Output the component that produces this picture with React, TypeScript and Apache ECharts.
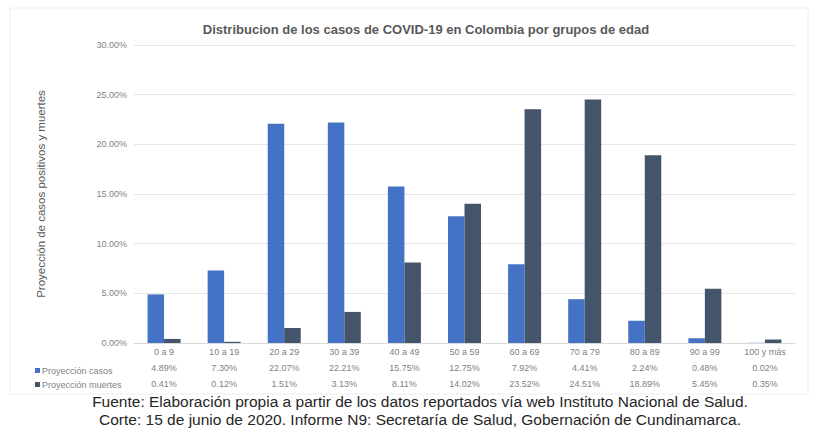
import React, { useEffect, useRef } from "react";
import * as echarts from "echarts";

const categories = ["0 a 9", "10 a 19", "20 a 29", "30 a 39", "40 a 49", "50 a 59", "60 a 69", "70 a 79", "80 a 89", "90 a 99", "100 y más"];
const casos = [4.89, 7.30, 22.07, 22.21, 15.75, 12.75, 7.92, 4.41, 2.24, 0.48, 0.02];
const muertes = [0.41, 0.12, 1.51, 3.13, 8.11, 14.02, 23.52, 24.51, 18.89, 5.45, 0.35];
const seriesNames = ["Proyección casos", "Proyección muertes"];
const title = "Distribucion de los casos de COVID-19 en Colombia por grupos de edad";
const yName = "Proyección de casos positivos y muertes";
const footer1 = "Fuente: Elaboración propia a partir de los datos reportados vía web Instituto Nacional de Salud.";
const footer2 = "Corte: 15 de junio de 2020. Informe N9: Secretaría de Salud, Gobernación de Cundinamarca.";

const FONT = "'Liberation Sans', Arial, sans-serif";

export default function App() {
  const ref = useRef<HTMLDivElement>(null);
  useEffect(() => {
    if (!ref.current) return;
    const chart = echarts.init(ref.current, undefined, { renderer: "svg" });
    chart.setOption({
      animation: false,
      backgroundColor: "#ffffff",
      textStyle: { fontFamily: FONT },
      title: {
        text: title,
        left: 421,
        textAlign: "center",
        top: 18,
        textStyle: { fontSize: 13, fontWeight: "bold", color: "#595959", fontFamily: FONT },
      },
      legend: {
        orient: "vertical",
        left: 30,
        top: 361,
        itemGap: 5,
        itemWidth: 5,
        itemHeight: 5,
        icon: "rect",
        data: seriesNames,
        textStyle: { fontSize: 9, color: "#7f7f7f", fontFamily: FONT, padding: [0, 0, 0, -3] },
      },
      grid: { left: 134, right: 22, top: 45, bottom: 87 },
      xAxis: {
        type: "category",
        data: categories,
        axisLine: { show: true, lineStyle: { color: "#d9d9d9" } },
        axisTick: { show: false },
        axisLabel: {
          interval: 0,
          margin: 1,
          formatter: (v: string, i: number) =>
            `{c|${v}}\n{v|${casos[i].toFixed(2)}%}\n{v|${muertes[i].toFixed(2)}%}`,
          rich: {
            c: { fontSize: 9, color: "#7f7f7f", lineHeight: 16, fontFamily: FONT },
            v: { fontSize: 9, color: "#7f7f7f", lineHeight: 16, fontFamily: FONT },
          },
        },
      },
      yAxis: {
        type: "value",
        min: 0,
        max: 30,
        interval: 5,
        name: yName,
        nameLocation: "middle",
        nameGap: 87,
        nameTextStyle: { fontSize: 11.5, color: "#595959", fontFamily: FONT },
        axisLabel: {
          fontSize: 9,
          color: "#7f7f7f",
          margin: 7,
          formatter: (v: number) => `${v.toFixed(2)}%`,
        },
        splitLine: { lineStyle: { color: "#e6e6e6" } },
        axisLine: { show: false },
        axisTick: { show: false },
      },
      series: [
        {
          name: seriesNames[0],
          type: "bar",
          data: casos,
          barWidth: 16.5,
          barGap: "0%",
          itemStyle: { color: "#4472c4" },
        },
        {
          name: seriesNames[1],
          type: "bar",
          data: muertes,
          barWidth: 16.5,
          barGap: "0%",
          itemStyle: { color: "#44546a" },
        },
      ],
      graphic: [
        {
          type: "rect",
          shape: { x: 10, y: 8, width: 798, height: 386 },
          style: { fill: "none", stroke: "#eeeeee", lineWidth: 1 },
          silent: true,
        },
        {
          type: "text",
          x: 420,
          y: 401,
          style: { text: footer1, fontSize: 15.5, fill: "#262626", fontFamily: FONT, align: "center", verticalAlign: "middle" },
        },
        {
          type: "text",
          x: 420,
          y: 419,
          style: { text: footer2, fontSize: 15.5, fill: "#262626", fontFamily: FONT, align: "center", verticalAlign: "middle" },
        },
      ],
    });
    return () => chart.dispose();
  }, []);
  return <div ref={ref} style={{ position: "fixed", left: 0, top: 0, width: 817, height: 430 }} />;
}
